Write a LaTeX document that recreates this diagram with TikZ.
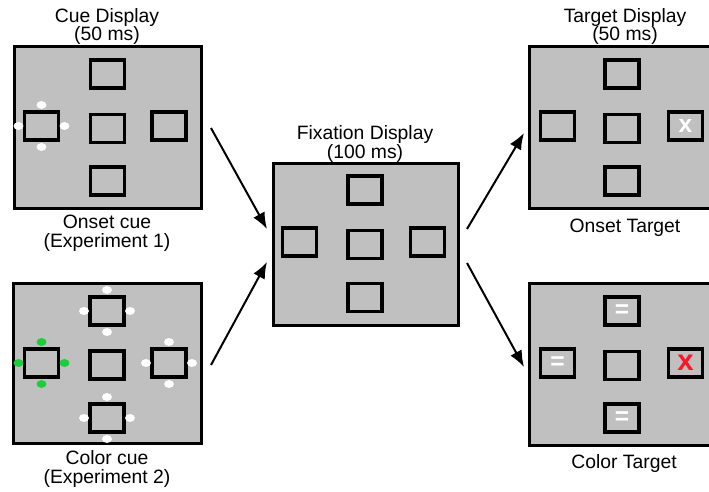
\documentclass[tikz,border=0pt]{standalone}
\usepackage{fontspec}
\setmainfont{Liberation Sans}
\usetikzlibrary{arrows.meta,calc}
\definecolor{panelgray}{HTML}{C0C0C0}
\definecolor{cuegreen}{HTML}{1FCC3A}
\definecolor{tgtred}{HTML}{FF1428}

% four dots round a placeholder box
\newcommand{\cuedots}[2]{%
  \foreach \dx/\dy in {-23/0,23/0,0/-21,0/21}
    \fill[#2] ($(#1)+(\dx,\dy)$) ellipse (4.2pt and 3.4pt);}

\begin{document}
\begin{tikzpicture}[x=0.03cm,y=-0.03cm,
  panel/.style={draw,line width=2.8pt,fill=panelgray,minimum width=5.61cm,minimum height=4.86cm,inner sep=0pt},
  slot/.style={draw,line width=3pt,minimum width=1.02cm,minimum height=0.84cm,inner sep=0pt},
  caption/.style={align=center,font=\fontsize{16.5}{16.2}\selectfont},
  glyph/.style={font=\fontsize{21}{21}\selectfont\bfseries},
  flow/.style={line width=1.7pt,-{Latex[length=14pt,width=11pt]}}]
  \useasboundingbox (0,0) rectangle (709,491);

  % cue display, onset cue
  \node[panel] (cue) at (108,127.5) {};
  \node[slot] (cueT) at (107.5,74) {};
  \node[slot] (cueM) at (107.5,128.5) {};
  \node[slot] (cueB) at (107.5,181) {};
  \node[slot] (cueL) at (41.5,126) {};
  \node[slot] (cueR) at (169,126) {};
  \cuedots{cueL}{white}
  \node[caption] (cueTitle) at (107,26.5) {Cue Display\\(50 ms)};
  \node[caption] (cueText) at (107,233) {Onset cue\\(Experiment 1)};

  % color cue
  \node[panel,minimum width=5.64cm,minimum height=4.8cm] (col) at (107.5,363.5) {};
  \node[slot] (colT) at (107,311) {};
  \node[slot] (colM) at (107,365) {};
  \node[slot] (colB) at (107,418) {};
  \node[slot] (colL) at (41.5,363) {};
  \node[slot] (colR) at (169,363) {};
  \cuedots{colT}{white}
  \cuedots{colB}{white}
  \cuedots{colR}{white}
  \cuedots{colL}{cuegreen}
  \node[caption] (colText) at (107,468.5) {Color cue\\(Experiment 2)};

  % fixation display
  \node[panel,minimum width=5.55cm] (fix) at (366,244.5) {};
  \node[slot] (fixT) at (365,190) {};
  \node[slot] (fixM) at (365,244.5) {};
  \node[slot] (fixB) at (365,297.5) {};
  \node[slot] (fixL) at (299.5,242) {};
  \node[slot] (fixR) at (427.5,242) {};
  \node[caption] (fixTitle) at (365,143.5) {Fixation Display\\(100 ms)};

  % target display, onset target
  \node[panel,minimum width=5.865cm] (ons) at (627.25,127.5) {};
  \node[slot] (onsT) at (622,74) {};
  \node[slot] (onsM) at (622,128.5) {};
  \node[slot] (onsB) at (622,181) {};
  \node[slot] (onsL) at (557.5,126) {};
  \node[slot,glyph,text=white] (onsR) at (685.5,126) {x};
  \node[caption] (onsTitle) at (625,26.5) {Target Display\\(50 ms)};
  \node[caption] (onsText) at (625,228) {Onset Target};

  % color target
  \node[panel,minimum width=5.865cm] (ctg) at (627.25,364.5) {};
  \node[slot,glyph,text=white] (ctgT) at (622,311) {=};
  \node[slot] (ctgM) at (622,365.5) {};
  \node[slot,glyph,text=white] (ctgB) at (622,418) {=};
  \node[slot,glyph,text=white] (ctgL) at (557.5,363) {=};
  \node[slot,glyph,text=tgtred,font=\fontsize{25}{25}\selectfont\bfseries] (ctgR) at (685.5,363) {x};
  \node[caption] (ctgText) at (624,463) {Color Target};

  % arrows
  \coordinate (cueOut) at (211,128);
  \coordinate (colOut) at (211,365);
  \coordinate (fixInA) at (267,229);
  \coordinate (fixInB) at (267,262);
  \coordinate (fixOutA) at (467,229);
  \coordinate (fixOutB) at (467,263);
  \coordinate (onsIn) at (524,133);
  \coordinate (ctgIn) at (524,367);
  \draw[flow] (cueOut) -- (fixInA);
  \draw[flow] (colOut) -- (fixInB);
  \draw[flow] (fixOutA) -- (onsIn);
  \draw[flow] (fixOutB) -- (ctgIn);
\end{tikzpicture}
\end{document}
